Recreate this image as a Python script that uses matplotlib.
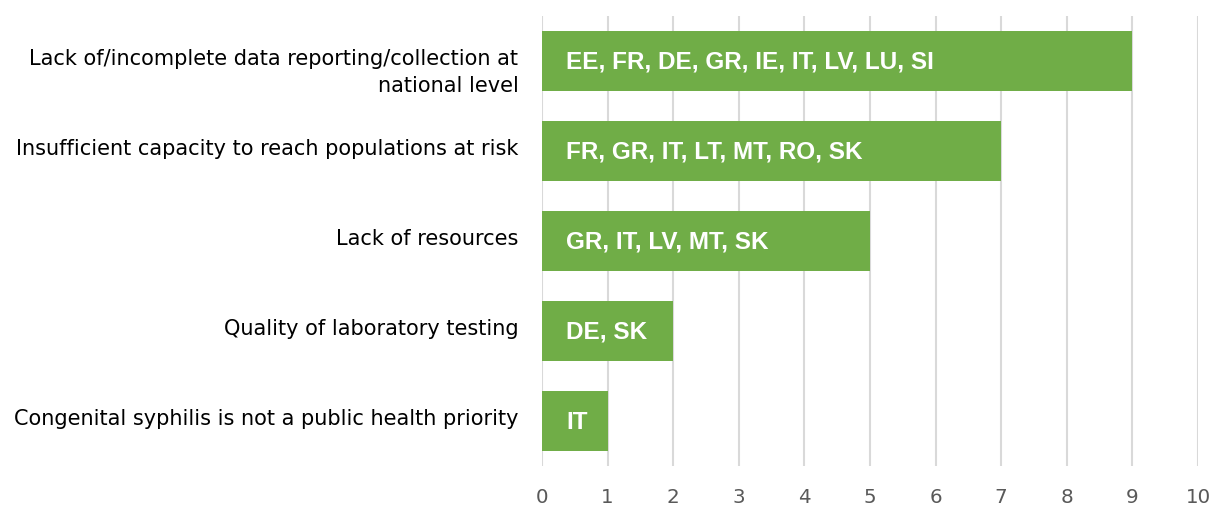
import matplotlib
matplotlib.use("Agg")
import matplotlib.pyplot as plt
from matplotlib.transforms import ScaledTranslation

categories = [
    "Lack of/incomplete data reporting/collection at\nnational level",
    "Insufficient capacity to reach populations at risk",
    "Lack of resources",
    "Quality of laboratory testing",
    "Congenital syphilis is not a public health priority",
]
values = [9, 7, 5, 2, 1]
countries = [
    "EE, FR, DE, GR, IE, IT, LV, LU, SI",
    "FR, GR, IT, LT, MT, RO, SK",
    "GR, IT, LV, MT, SK",
    "DE, SK",
    "IT",
]
xticks = list(range(0, 11))

GREEN = "#70AD47"
GRID = "#D9D9D9"

fig = plt.figure(figsize=(12.12, 5.09), dpi=100)
ax = fig.add_axes([542 / 1212, 1 - 466 / 509, 656 / 1212, 450 / 509])

ypos = list(range(len(categories)))
ax.barh(ypos, values, height=0.667, color=GREEN, zorder=3)
ax.set_ylim(len(categories) - 0.5, -0.5)
ax.set_xlim(0, 10)

for y, v, c in zip(ypos, values, countries):
    ax.annotate(c, xy=(0, y), xytext=(24, -1), textcoords="offset pixels",
                ha="left", va="center", color="white", fontsize=17.5,
                fontweight="bold", family=["Liberation Sans", "DejaVu Sans"], zorder=4)

ax.set_xticks(xticks)
ax.set_xticklabels([str(t) for t in xticks], color="#595959", fontsize=14.3,
                   family="DejaVu Sans")
ax.set_yticks(ypos)
ax.set_yticklabels(categories, fontsize=15, family="DejaVu Sans", color="black",
                   linespacing=1.45)
ax.tick_params(axis="both", length=0)
ax.tick_params(axis="x", pad=16)
ax.tick_params(axis="y", pad=17)

# small vertical nudges of the category labels (in pixels)
for lbl in ax.get_yticklabels():
    dy = -6 if "\n" in lbl.get_text() else 4
    lbl.set_transform(lbl.get_transform() +
                      ScaledTranslation(0, dy / 100, fig.dpi_scale_trans))

for t in xticks:
    ax.axvline(t, color=GRID, lw=1.5, zorder=1)

for s in ax.spines.values():
    s.set_visible(False)

fig.savefig("out.png", dpi=100)
